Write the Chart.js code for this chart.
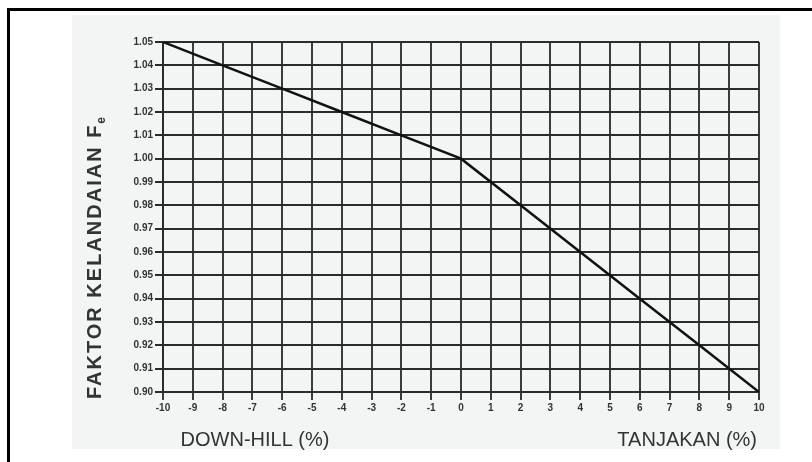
<!DOCTYPE html>
<html>
<head>
<meta charset="utf-8">
<script src="https://cdn.jsdelivr.net/npm/chart.js@4.4.1/dist/chart.umd.min.js"></script>
<style>
  html, body { margin: 0; padding: 0; background: #fff; }
  #wrap { width: 812px; height: 462px; }
</style>
</head>
<body>
<div id="wrap"><canvas id="chart" width="812" height="462"></canvas></div>
<script>
// ---------------- data ----------------
const GRADE = [-10, -8, -6, -4, -2, 0, 2, 4, 6, 8, 10];          // kelandaian (%)
const FACTOR = [1.05, 1.04, 1.03, 1.02, 1.01, 1.00, 0.98, 0.96, 0.94, 0.92, 0.90];
const X_TICKS = [-10, -9, -8, -7, -6, -5, -4, -3, -2, -1, 0, 1, 2, 3, 4, 5, 6, 7, 8, 9, 10];
const Y_TICKS = [0.90, 0.91, 0.92, 0.93, 0.94, 0.95, 0.96, 0.97, 0.98, 0.99, 1.00, 1.01, 1.02, 1.03, 1.04, 1.05];

const INK = '#2b2b2b';
const TEXT = '#333333';

// paper, scan area, frame and the free-standing titles
const paper = {
  id: 'paper',
  beforeDraw(chart) {
    const ctx = chart.ctx;
    ctx.save();
    ctx.fillStyle = '#ffffff';
    ctx.fillRect(0, 0, chart.width, chart.height);
    ctx.fillStyle = '#f3f5f5';
    ctx.fillRect(72, 15, 708, 434);
    ctx.strokeStyle = '#000';
    ctx.lineWidth = 3;
    ctx.beginPath();
    ctx.moveTo(8.5, chart.height);
    ctx.lineTo(8.5, 9.5);
    ctx.lineTo(chart.width, 9.5);
    ctx.stroke();
    ctx.restore();
  },
  afterDraw(chart) {
    const ctx = chart.ctx;
    ctx.save();
    ctx.fillStyle = TEXT;
    ctx.textBaseline = 'middle';
    ctx.font = '20px "Liberation Sans", Arial, sans-serif';
    ctx.textAlign = 'center';
    ctx.fillText('DOWN-HILL (%)', 255, 440);
    ctx.textAlign = 'right';
    ctx.fillText('TANJAKAN (%)', 757, 440);

    // y title, rotated, with subscript e
    ctx.translate(95, 257);
    ctx.rotate(-Math.PI / 2);
    ctx.font = 'bold 20px "Liberation Sans", Arial, sans-serif';
    ctx.letterSpacing = '2px';
    const main = 'FAKTOR KELANDAIAN F';
    const w = ctx.measureText(main).width;
    ctx.font = 'bold 12px "Liberation Sans", Arial, sans-serif';
    const ws = ctx.measureText('e').width;
    const start = -(w + ws) / 2;
    ctx.textAlign = 'left';
    ctx.font = 'bold 20px "Liberation Sans", Arial, sans-serif';
    ctx.fillText(main, start, 0);
    ctx.font = 'bold 12px "Liberation Sans", Arial, sans-serif';
    ctx.fillText('e', start + w, 7);
    ctx.restore();
  }
};

new Chart(document.getElementById('chart'), {
  type: 'line',
  data: {
    datasets: [{
      data: GRADE.map((g, i) => ({ x: g, y: FACTOR[i] })),
      borderColor: '#111',
      borderWidth: 2.5,
      pointRadius: 0,
      tension: 0,
    }],
  },
  options: {
    responsive: false,
    animation: false,
    layout: { padding: { top: 42, right: 53, left: 0, bottom: 0 } },
    plugins: { legend: { display: false }, tooltip: { enabled: false } },
    scales: {
      x: {
        type: 'linear',
        min: -10, max: 10,
        afterBuildTicks: (s) => { s.ticks = X_TICKS.map(v => ({ value: v })); },
        afterFit: (s) => { s.height = 70; },
        ticks: {
          color: TEXT, padding: 2, maxRotation: 0, autoSkip: false,
          font: { size: 10, weight: 'bold', family: '"Liberation Sans", Arial' },
          callback: (v) => String(v),
        },
        grid: { color: '#3c3c3c', lineWidth: 2, tickLength: 8, drawTicks: true },
        border: { display: true, color: INK, width: 2, dash: [] },
      },
      y: {
        type: 'linear',
        min: 0.90, max: 1.05,
        afterBuildTicks: (s) => { s.ticks = Y_TICKS.map(v => ({ value: v })); },
        afterFit: (s) => { s.width = 163; },
        ticks: {
          color: TEXT, padding: 2, autoSkip: false,
          font: { size: 10, weight: 'bold', family: '"Liberation Sans", Arial' },
          callback: (v) => Number(v).toFixed(2),
        },
        grid: { color: INK, lineWidth: 2, tickLength: 8 },
        border: { display: true, color: INK, width: 2 },
      },
    },
  },
  plugins: [paper],
});
</script>
</body>
</html>
